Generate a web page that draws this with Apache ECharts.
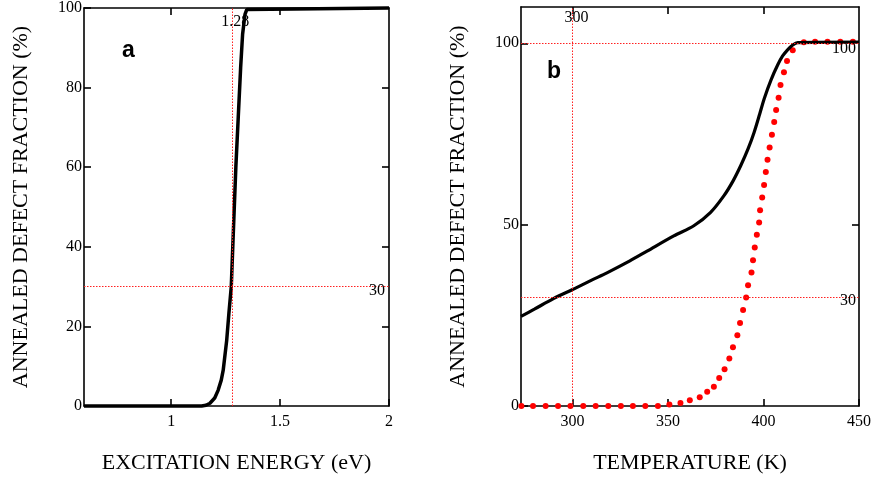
<!DOCTYPE html>
<html><head><meta charset="utf-8">
<script src="https://cdn.jsdelivr.net/npm/echarts@6/dist/echarts.min.js"></script>
<style>html,body{margin:0;padding:0;background:#fff}#c{width:878px;height:481px}</style>
</head><body><div id="c"></div>
<script>
// Panel a: annealed defect fraction vs excitation energy
const energyCurve = [[0.6,0],[1.14,0],[1.16,0.2],[1.178,0.7],[1.2,2],[1.216,4],[1.23,6.5],[1.239,9],[1.255,16.5],[1.265,23.2],[1.276,30],[1.285,43],[1.297,60],[1.308,72.5],[1.319,85],[1.328,93.4],[1.339,98.4],[1.347,99.6],[1.354,100],[2,100]];
const energyTicks = [1, 1.5, 2];
const fractionTicksA = [0, 20, 40, 60, 80, 100];
const markerEnergy = 1.28;
const markerFractionA = 30;

// Panel b: annealed defect fraction vs temperature
const tempCurve = [[273,24.7],[280,26.7],[290,29.6],[300,32.1],[310,34.7],[318,36.7],[330,40.0],[339,42.7],[353,46.9],[363.5,49.7],[372.3,53.4],[379.3,58],[384,62],[388.1,66.3],[392,71],[395.1,75.5],[398,80.5],[400.4,84.8],[404,90],[407.4,94],[410,96.5],[412.6,98.2],[415,99.4],[417.9,100.2],[450,100.3]];
const tempDots = [[273.2,0],[279.3,0],[285.9,0],[292.4,0],[298.9,0],[305.6,0],[312.1,0],[318.7,0],[325.3,0],[331.6,0],[338.1,0],[344.7,0],[350.7,0.4],[356.5,0.8],[361.4,1.6],[366.6,2.4],[370.5,3.9],[374.0,5.3],[376.8,7.7],[379.6,10.1],[382.1,13.1],[384.0,16.2],[386.3,19.5],[387.7,22.9],[389.3,26.5],[390.9,29.9],[391.9,33.3],[393.7,36.8],[394.5,40.2],[395.4,43.7],[396.5,47.2],[397.7,50.6],[398.2,54.0],[399.3,57.5],[400.3,60.9],[401.2,64.5],[402.1,67.9],[403.2,71.3],[404.4,74.8],[405.6,78.3],[406.6,81.6],[407.9,85.0],[408.9,88.5],[410.7,92.0],[412.3,95.1],[415.3,98.1],[421.1,100.3],[427.0,100.4],[433.5,100.4],[440.2,100.4],[446.8,100.4]];
const tempTicks = [300, 350, 400, 450];
const fractionTicksB = [0, 50, 100];
const markerTemp = 300;
const markerFractionB = [30, 100];

const serif = 'Liberation Serif';
const black = '#000';
const red = '#ff2020';

function xAx(grid, min, max, ticks, pos, showLabel, name) {
  return {
    type: 'value', gridIndex: grid, min: min, max: max, position: pos,
    axisLine: {show: true, onZero: false, lineStyle: {color: black, width: 1.6}},
    axisTick: {show: true, inside: true, length: 7, customValues: ticks, lineStyle: {color: black, width: 1.6}},
    axisLabel: {show: showLabel, customValues: ticks, color: black, fontFamily: serif, fontSize: 16, margin: 8},
    splitLine: {show: false},
    name: name || '', nameLocation: 'middle', nameGap: 46,
    nameTextStyle: {color: black, fontFamily: serif, fontSize: 22}
  };
}
function yAx(grid, min, max, ticks, pos, showLabel, name) {
  return {
    type: 'value', gridIndex: grid, min: min, max: max, position: pos,
    axisLine: {show: true, onZero: false, lineStyle: {color: black, width: 1.6}},
    axisTick: {show: true, inside: true, length: 7, customValues: ticks, lineStyle: {color: black, width: 1.6}},
    axisLabel: {show: showLabel, customValues: ticks, color: black, fontFamily: serif, fontSize: 16, margin: 2},
    splitLine: {show: false},
    name: name || '', nameLocation: 'middle', nameGap: 52, nameRotate: 90,
    nameTextStyle: {color: black, fontFamily: serif, fontSize: 22}
  };
}
const dotted = {color: red, width: 1, type: [1.5, 1.5]};
function labelSeries(xi, yi, data) {
  return {
    type: 'scatter', xAxisIndex: xi, yAxisIndex: yi, symbol: 'circle', symbolSize: 1, silent: true, z: 10,
    itemStyle: {color: 'rgba(0,0,0,0)', opacity: 1},
    data: data.map(d => ({value: [d[0], d[1]], label: {show: true, formatter: d[2], position: 'inside', align: d[3], verticalAlign: 'middle', offset: d[4], color: '#000', opacity: 1, textBorderWidth: 0, textBorderColor: 'transparent', fontFamily: serif, fontSize: 16}}))
  };
}

const option = {
  animation: false,
  backgroundColor: '#fff',
  title: [
    {text: 'a', left: 117, top: 34, textStyle: {fontFamily: 'Liberation Sans', fontWeight: 'bold', fontSize: 23, color: black}},
    {text: 'b', left: 542, top: 55, textStyle: {fontFamily: 'Liberation Sans', fontWeight: 'bold', fontSize: 23, color: black}}
  ],
  grid: [
    {left: 84, right: 489, top: 7, bottom: 75},
    {left: 521, right: 19, top: 7, bottom: 75}
  ],
  xAxis: [
    xAx(0, 0.6, 2, energyTicks, 'bottom', true, 'EXCITATION ENERGY (eV)'),
    xAx(0, 0.6, 2, [1, 1.5], 'top', false),
    xAx(1, 273, 450, tempTicks, 'bottom', true, 'TEMPERATURE (K)'),
    xAx(1, 273, 450, [300, 350, 400], 'top', false)
  ],
  yAxis: [
    yAx(0, 0, 100, fractionTicksA, 'left', true, 'ANNEALED DEFECT FRACTION (%)'),
    yAx(0, 0, 100, [20, 40, 60, 80], 'right', false),
    yAx(1, 0, 110, fractionTicksB, 'left', true, 'ANNEALED DEFECT FRACTION (%)'),
    yAx(1, 0, 110, [50], 'right', false)
  ],
  series: [
    {type: 'line', xAxisIndex: 0, yAxisIndex: 0, data: [], symbol: 'none',
     markLine: {silent: true, symbol: 'none', label: {show: false}, lineStyle: dotted,
       data: [{xAxis: markerEnergy}, {yAxis: markerFractionA}]}},
    {type: 'line', xAxisIndex: 0, yAxisIndex: 0, data: energyCurve, symbol: 'none', clip: false,
     lineStyle: {color: black, width: 3.5}},
    labelSeries(0, 0, [[markerEnergy, 96.5, '1.28', 'center', [3, 0]], [2, markerFractionA, '30', 'right', [-4, 4]]]),
    {type: 'line', xAxisIndex: 2, yAxisIndex: 2, data: [], symbol: 'none',
     markLine: {silent: true, symbol: 'none', label: {show: false}, lineStyle: dotted,
       data: [{xAxis: markerTemp}, {yAxis: markerFractionB[0]}, {yAxis: markerFractionB[1]}]}},
    {type: 'line', xAxisIndex: 2, yAxisIndex: 2, data: tempCurve, symbol: 'none', clip: false,
     smooth: 0.3, lineStyle: {color: black, width: 3.2}},
    {type: 'scatter', xAxisIndex: 2, yAxisIndex: 2, data: tempDots, symbol: 'circle', symbolSize: 6, clip: false,
     itemStyle: {color: '#ff0000', opacity: 1}},
    labelSeries(2, 2, [[markerTemp, 107, '300', 'center', [4, 0]], [450, markerFractionB[1], '100', 'right', [-3, 6]], [450, markerFractionB[0], '30', 'right', [-3, 4]]])
  ]
};
const chart = echarts.init(document.getElementById('c'), null, {renderer: 'canvas'});
chart.setOption(option);
</script></body></html>
